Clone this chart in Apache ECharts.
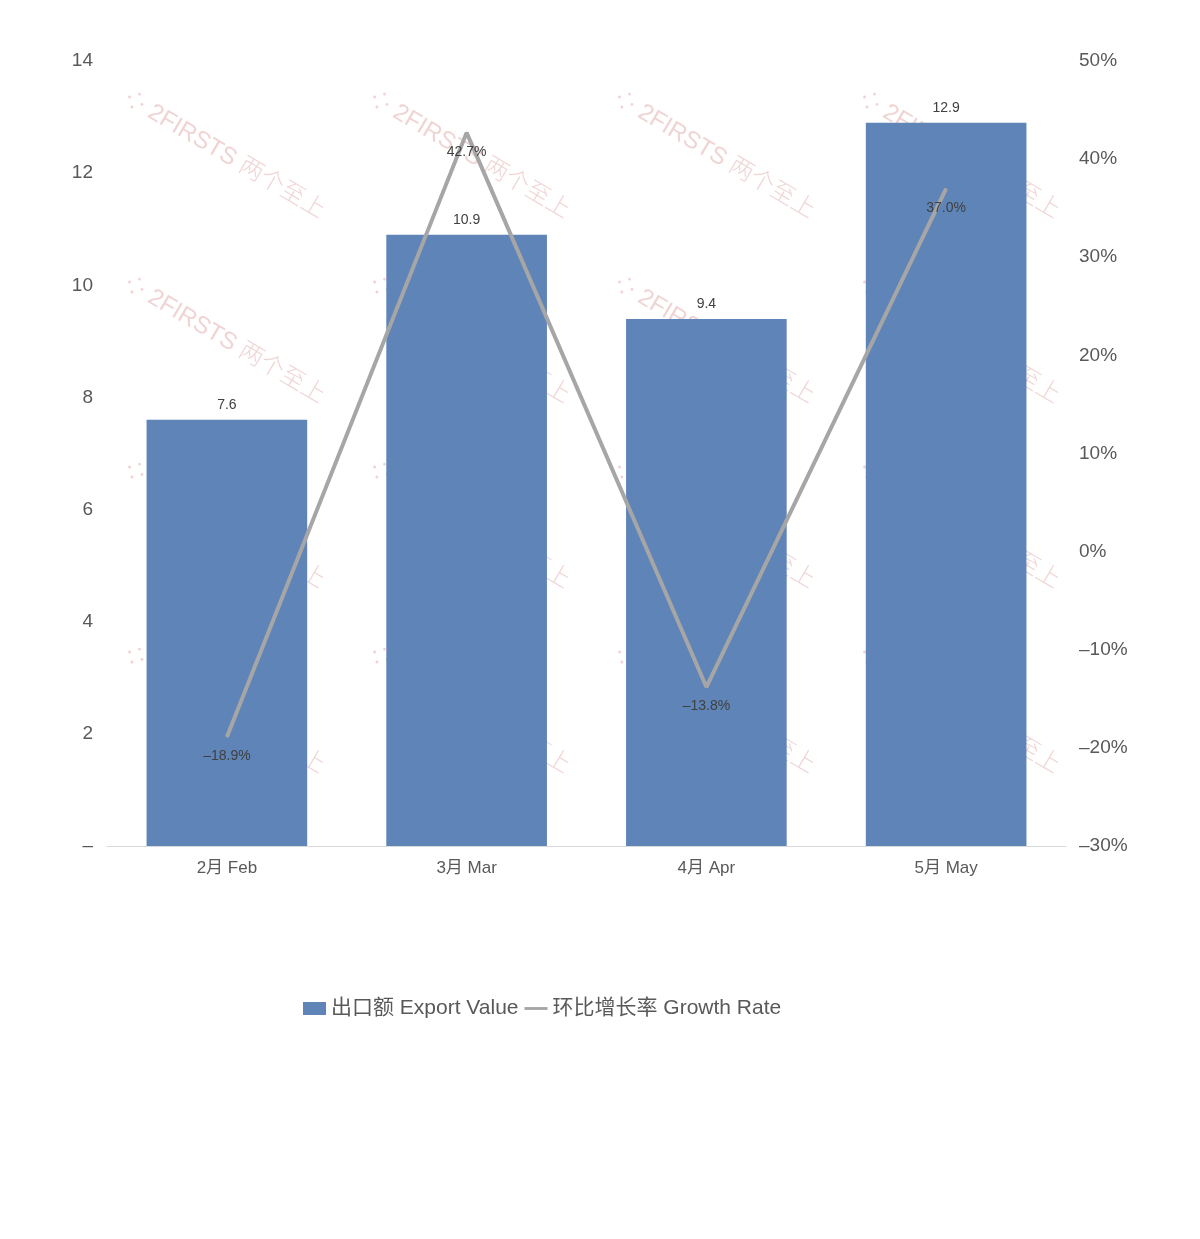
<!DOCTYPE html>
<html><head><meta charset="utf-8">
<script src="https://cdn.jsdelivr.net/npm/echarts@6/dist/echarts.min.js"></script>
<style>html,body{margin:0;padding:0;background:#fff}#c{width:1200px;height:1239px}</style>
</head><body><div id="c"></div>
<script>
const categories = ['2月 Feb', '3月 Mar', '4月 Apr', '5月 May'];
const exportValues = [7.6, 10.9, 9.4, 12.9];
const growthRates = [-18.9, 42.7, -13.8, 37.0];
const seriesNames = ['出口额 Export Value', '环比增长率 Growth Rate'];

const font = '"Helvetica Neue", Arial, "Noto Sans CJK SC", sans-serif';
const minus = s => String(s).replace('-', '\u2013');

const wm = [];
[225, 470, 715, 960].forEach(cx => {
  [155, 340, 525, 710].forEach(cy => {
    wm.push({
      type: 'text', x: cx, y: cy, rotation: -Math.PI * 0.17, z: -10, silent: true,
      style: { text: '⁘ 2FIRSTS 两个至上', fill: 'rgba(226,170,170,0.5)', font: '300 24px ' + font, align: 'center', verticalAlign: 'middle' }
    });
  });
});

const chart = echarts.init(document.getElementById('c'));
chart.setOption({
  backgroundColor: '#fff',
  animation: false,
  textStyle: { fontFamily: font },
  graphic: wm,
  grid: { left: 107, right: 134, top: 61, bottom: 393, containLabel: false },
  legend: {
    top: 993, left: 298, itemGap: 6, itemWidth: 23, itemHeight: 13,
    textStyle: { fontSize: 21, color: '#595959', fontFamily: font },
    data: [
      { name: seriesNames[0], icon: 'rect' },
      { name: seriesNames[1], icon: 'path://M0,0 H24 V3 H0 Z' }
    ]
  },
  xAxis: {
    type: 'category', data: categories,
    axisLine: { lineStyle: { color: '#d9d9d9', width: 1 } },
    axisTick: { show: false },
    axisLabel: { fontSize: 17, color: '#595959', margin: 14 }
  },
  yAxis: [
    {
      type: 'value', min: 0, max: 14, interval: 2,
      splitLine: { show: false }, axisLine: { show: false }, axisTick: { show: false },
      axisLabel: { fontSize: 19, color: '#595959', margin: 14, formatter: v => v === 0 ? '\u2013' : v }
    },
    {
      type: 'value', min: -30, max: 50, interval: 10,
      splitLine: { show: false }, axisLine: { show: false }, axisTick: { show: false },
      axisLabel: { fontSize: 19, color: '#595959', margin: 13, formatter: v => minus(v) + '%' }
    }
  ],
  series: [
    {
      name: seriesNames[0], type: 'bar', data: exportValues, yAxisIndex: 0,
      barCategoryGap: '33%',
      itemStyle: { color: '#5f84b7' },
      label: { show: true, position: 'top', fontSize: 14, color: '#404040', distance: 8, formatter: p => p.value.toFixed(1) }
    },
    {
      name: seriesNames[1], type: 'line', data: growthRates, yAxisIndex: 1,
      symbol: 'circle', symbolSize: 1, showSymbol: true,
      lineStyle: { color: '#a6a6a6', width: 4 },
      itemStyle: { color: '#a6a6a6' },
      label: { show: true, position: 'bottom', fontSize: 14, color: '#404040', distance: 12, formatter: p => minus(p.value.toFixed(1)) + '%' }
    }
  ]
});
</script></body></html>
